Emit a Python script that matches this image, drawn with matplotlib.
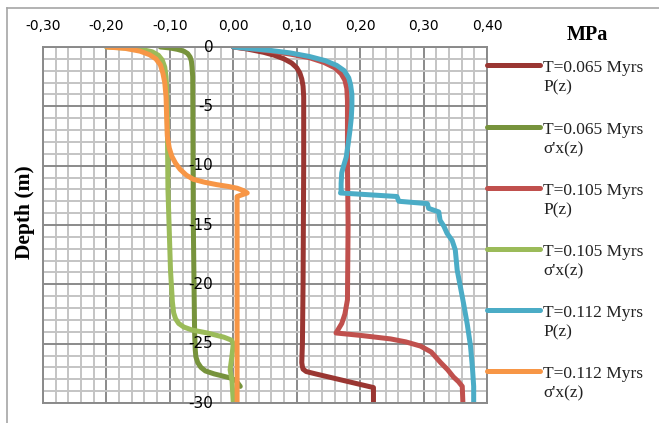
import matplotlib
matplotlib.use('Agg')
import matplotlib.pyplot as plt
from matplotlib.lines import Line2D
from matplotlib.ticker import MultipleLocator

# ---------------- data ----------------
x_ticks = [-0.30, -0.20, -0.10, 0.00, 0.10, 0.20, 0.30, 0.40]
x_tick_labels = ["-0,30", "-0,20", "-0,10", "0,00", "0,10", "0,20", "0,30", "0,40"]
y_ticks = [0, -5, -10, -15, -20, -25, -30]
y_tick_labels = ["0", "-5", "-10", "-15", "-20", "-25", "-30"]

legend_line1 = ["T=0.065 Myrs", "T=0.065 Myrs", "T=0.105 Myrs",
                "T=0.105 Myrs", "T=0.112 Myrs", "T=0.112 Myrs"]
legend_line2 = ["P(z)", "σ'x(z)", "P(z)", "σ'x(z)", "P(z)", "σ'x(z)"]

# T=0.065 Myrs P(z)
p065_x = [0, 0.020, 0.048, 0.065, 0.080, 0.092, 0.100, 0.105, 0.108, 0.110, 0.111,
          0.111, 0.110, 0.109, 0.108, 0.109, 0.110, 0.115, 0.130, 0.221, 0.221]
p065_z = [0, -0.15, -0.45, -0.7, -1.0, -1.35, -1.75, -2.2, -2.7, -3.3, -4.2,
          -10, -20, -25, -26.6, -26.95, -27.15, -27.35, -27.55, -28.7, -30]

# T=0.065 Myrs sigma'x(z)
s065_x = [-0.115, -0.100, -0.088, -0.078, -0.072, -0.068, -0.066, -0.065, -0.064,
          -0.063, -0.061, -0.060, -0.059, -0.056, -0.051, -0.044, -0.030, -0.015,
          -0.004, 0.004, 0.011]
s065_z = [0, -0.08, -0.2, -0.35, -0.55, -0.85, -1.2, -1.7, -2.5,
          -15, -24, -25.5, -26.1, -26.6, -27.0, -27.3, -27.55, -27.75,
          -27.9, -28.1, -28.6]

# T=0.105 Myrs P(z)
p105_x = [0, 0.030, 0.060, 0.090, 0.120, 0.143, 0.160, 0.170, 0.176, 0.179, 0.180,
          0.180, 0.181, 0.180, 0.176, 0.171, 0.162, 0.200, 0.248, 0.272, 0.295,
          0.312, 0.327, 0.338, 0.347, 0.355, 0.361, 0.362]
p105_z = [0, -0.17, -0.35, -0.6, -0.9, -1.3, -1.75, -2.25, -2.8, -3.5, -4.5,
          -10, -15, -21.3, -22.5, -23.3, -24.1, -24.3, -24.6, -24.85, -25.2,
          -25.7, -26.6, -27.2, -27.8, -28.2, -28.6, -30]

# T=0.105 Myrs sigma'x(z)
s105_x = [-0.200, -0.170, -0.145, -0.128, -0.118, -0.112, -0.108, -0.106, -0.105,
          -0.104, -0.103, -0.099, -0.096, -0.094, -0.091, -0.086, -0.078, -0.065,
          -0.041, -0.015, -0.003, 0.000, -0.002, -0.005, -0.002, 0.000]
s105_z = [0, -0.08, -0.2, -0.4, -0.7, -1.1, -1.7, -2.5, -3.5,
          -6, -12, -18.8, -21.5, -22.4, -22.9, -23.3, -23.6, -23.85,
          -24.1, -24.45, -24.7, -25.0, -26, -27.2, -28.1, -30]

# T=0.112 Myrs P(z)
p112_x = [0, 0.030, 0.060, 0.090, 0.120, 0.145, 0.163, 0.175, 0.182, 0.185, 0.187,
          0.187, 0.186, 0.184, 0.181, 0.178, 0.174, 0.171, 0.170, 0.170,
          0.169, 0.258, 0.261, 0.306, 0.308, 0.324, 0.326, 0.332, 0.337, 0.345,
          0.350, 0.353, 0.358, 0.363, 0.369, 0.374, 0.377, 0.379, 0.379]
p112_z = [0, -0.15, -0.3, -0.5, -0.8, -1.15, -1.55, -2.0, -2.6, -3.2, -4.0,
          -5.0, -6.0, -7.0, -8.2, -9.3, -10.0, -10.6, -11.5, -12.2,
          -12.3, -12.6, -13.0, -13.2, -13.6, -13.9, -14.6, -15.1, -15.7, -16.3,
          -17.1, -18.8, -20.2, -21.6, -23.4, -25.2, -27.0, -28.6, -30]

# T=0.112 Myrs sigma'x(z)
s112_x = [-0.199, -0.170, -0.147, -0.132, -0.122, -0.115, -0.111, -0.108, -0.106,
          -0.105, -0.104, -0.101, -0.097, -0.091, -0.084, -0.074, -0.063, -0.045,
          -0.026, -0.008, 0.006, 0.016, 0.022, 0.006, 0.006, 0.006]
s112_z = [0, -0.12, -0.35, -0.65, -1.0, -1.5, -2.2, -3.0, -4.2,
          -6.0, -7.5, -8.5, -9.2, -9.8, -10.3, -10.8, -11.15, -11.4,
          -11.6, -11.75, -11.9, -12.1, -12.3, -12.6, -20, -30]

series_x = [p065_x, s065_x, p105_x, s105_x, p112_x, s112_x]
series_z = [p065_z, s065_z, p105_z, s105_z, p112_z, s112_z]
colors = ["#9A3632", "#77933C", "#C0504D", "#9BBB59", "#4BACC6", "#F79646"]

# ---------------- figure ----------------
W, H = 659, 423
fig = plt.figure(figsize=(W / 100, H / 100), dpi=100)
ax = fig.add_axes([43 / W, 1 - 403 / H, (487 - 43) / W, (403 - 47) / H])

minor_c = "#C4C4C4"
major_c = "#8A8A8A"
ax.set_xlim(-0.30, 0.40)
ax.set_ylim(-30, 0)
ax.set_axisbelow(True)
ax.xaxis.set_minor_locator(MultipleLocator(0.02))
ax.yaxis.set_minor_locator(MultipleLocator(1))
ax.grid(which='minor', color=minor_c, lw=1.4)
ax.grid(which='major', color=major_c, lw=1.4)
for sp in ax.spines.values():
    sp.set_color(major_c)
    sp.set_linewidth(1.4)

ax.xaxis.tick_top()
ax.set_xticks(x_ticks)
ax.set_xticklabels(x_tick_labels)
ax.tick_params(axis='x', which='both', length=0, pad=10, labelsize=10, colors='black')
ax.set_yticks(y_ticks)
ax.set_yticklabels([])
ax.tick_params(axis='y', which='both', length=0)
ax.tick_params(axis='both', which='minor', length=0)

for v, lab in zip(y_ticks, y_tick_labels):
    ax.annotate(lab, xy=(0, v), xytext=(-20, 0), textcoords='offset pixels',
                ha='right', va='center', fontsize=11, color='black',
                annotation_clip=False)

for xs, zs, c in zip(series_x, series_z, colors):
    ax.plot(xs, zs, color=c, lw=3.6, solid_joinstyle='round', solid_capstyle='round')

# Legend (handle aligned with the first line of each label)
legend_y = [65, 127, 188, 249, 310, 371]
for y, c, l1, l2 in zip(legend_y, colors, legend_line1, legend_line2):
    fig.add_artist(Line2D([487 / W, 540 / W], [1 - y / H] * 2, color=c, lw=3.6,
                          solid_capstyle='round'))
    fig.text(543 / W, 1 - (y + 6.5) / H, l1, family='Liberation Serif',
             fontsize=12.5, va='baseline', ha='left', color='#222222')
    fig.text(543 / W, 1 - (y + 26.5) / H, l2, family='Liberation Serif',
             fontsize=12.5, va='baseline', ha='left', color='#222222')

fig.text(587 / W, 1 - 35 / H, "MPa", family='Liberation Serif', fontweight='bold',
         fontsize=14.5, ha='center', va='center')
fig.text(25 / W, 1 - 212 / H, "Depth (m)", family='Liberation Serif',
         fontweight='bold', fontsize=15.5, rotation=90, ha='center', va='center')

# outer chart border (top and left visible)
fig.add_artist(Line2D([7 / W, 1], [1 - 8 / H] * 2, color='#A6A6A6', lw=1.2))
fig.add_artist(Line2D([7 / W] * 2, [1 - 8 / H, 0], color='#A6A6A6', lw=1.2))

fig.savefig("out.png", dpi=100)
